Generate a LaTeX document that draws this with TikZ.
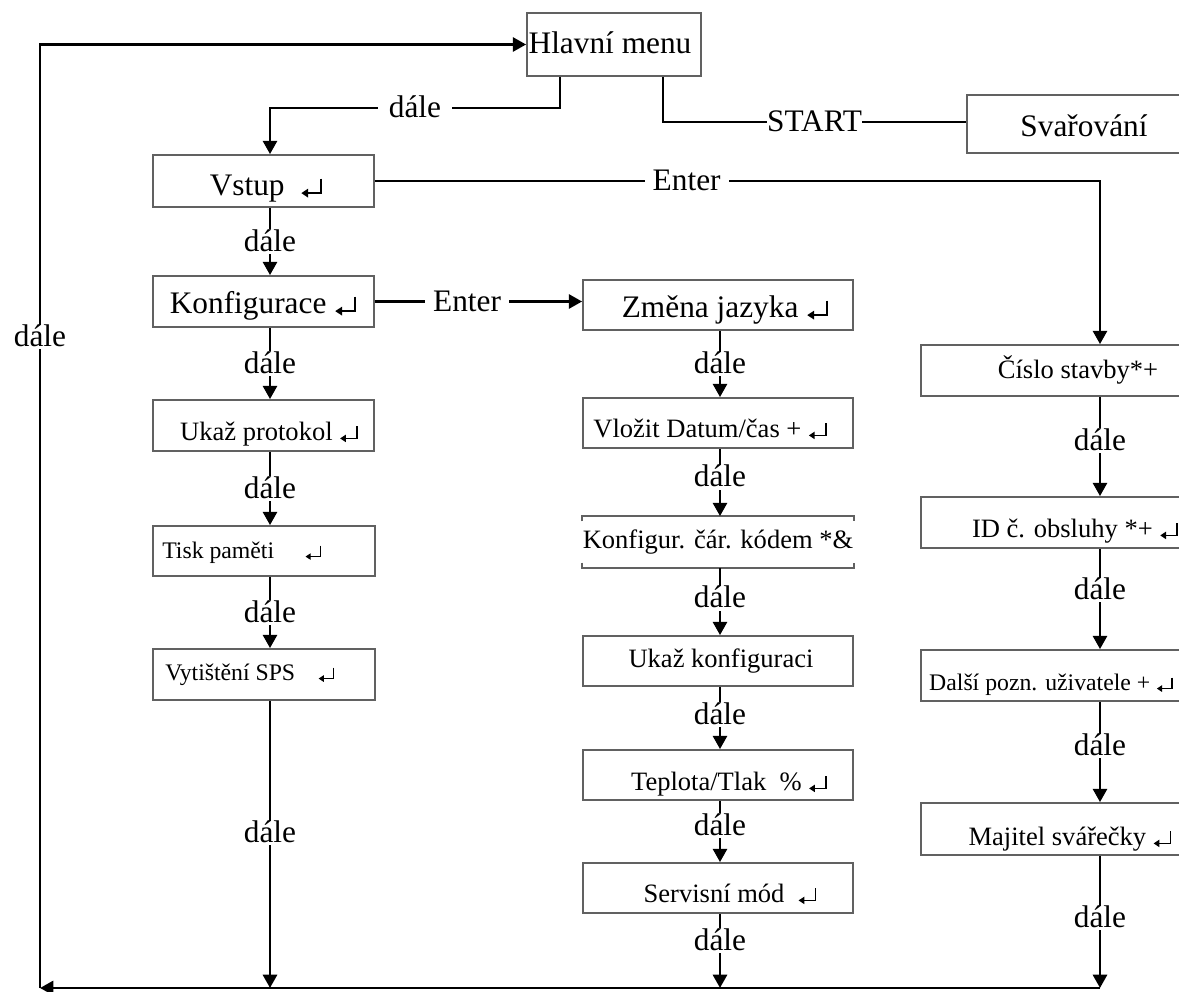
\documentclass[tikz,border=0pt]{standalone}
\usepackage{fontspec}
\setmainfont{Liberation Serif}
\usetikzlibrary{arrows.meta}
\definecolor{boxgray}{gray}{0.38}
\newcommand{\fbig}{\fontsize{23.5}{28}\selectfont}
\newcommand{\fmed}{\fontsize{19.9}{24}\selectfont}
\newcommand{\fsml}{\fontsize{17.8}{21}\selectfont}
\newcommand{\ret}{\tikz[baseline=0pt,x=1em,y=1em]{\draw[line width=0.06em,-{Triangle[length=0.22em,width=0.27em]}] (0.64,0.52) -- (0.64,0.06) -- (0.0,0.06);}}
\newcommand{\mybox}[6][]{\node[boxst,#1,minimum width={(#4-#2)*0.75pt},minimum height={(#5-#3)*0.75pt}] (#6) at ({(#2+#4)/2},{(#3+#5)/2}) {};}
\begin{document}
\begin{tikzpicture}[x=0.75pt,y=-0.75pt,
  boxst/.style={draw=boxgray,line width=1.3pt,inner sep=0pt},
  conn/.style={line width=2.2pt,black},
  arr/.style={conn,-{Triangle[length=10pt,width=10.5pt]}},
  lbl/.style={fill=white,inner xsep=6pt,inner ysep=1pt,font=\fbig,text height=15.6pt,text depth=1pt},
  tbig/.style={font=\fbig,inner sep=0pt,anchor=base},
  tmed/.style={font=\fmed,inner sep=0pt,anchor=base},
  tsml/.style={font=\fsml,inner sep=0pt,anchor=base}]
\useasboundingbox (0,0) rectangle (1179,992);
\clip (0,0) rectangle (1179,992);
% boxes
\mybox{527}{13}{701}{76}{hl}
\mybox{967}{95}{1200}{153}{sv}
\mybox{153}{155}{374}{207}{vs}
\mybox{153}{276}{374}{327}{ko}
\mybox{153}{400}{374}{451}{up}
\mybox{153}{526}{375}{576}{tp}
\mybox{153}{649}{375}{700}{vy}
\mybox{583}{280}{853}{330}{zj}
\mybox{583}{398}{853}{448}{vd}
\mybox[draw=none]{583}{517}{853}{567}{kc}
\mybox{583}{636}{853}{686}{uk}
\mybox{583}{750}{853}{800}{tt}
\mybox{583}{863}{853}{913}{sm}
\mybox{921}{345}{1200}{396}{cs}
\mybox{921}{497}{1200}{548}{id}
\mybox{921}{650}{1200}{701}{dp}
\mybox{921}{803}{1200}{855}{mj}
\draw[boxgray,line width=1.3pt] ([yshift=-4pt]kc.north west) -- (kc.north west) -- (kc.north east) -- ([yshift=-4pt]kc.north east);
\draw[boxgray,line width=1.3pt] ([yshift=4pt]kc.south west) -- (kc.south west) -- (kc.south east) -- ([yshift=4pt]kc.south east);
% texts
\node[tbig] (t-hl) at (610,53) {Hlavní menu};
\node[tbig] (t-sv) at (1084,136) {Svařování};
\node[tbig] (t-vs) at (266,195) {Vstup\ \ \ret};
\node[tbig] (t-ko) at (263,313) {Konfigurace \ret};
\node[tmed] (t-up) at (269,440) {Ukaž protokol \ret};
\node[tsml,anchor=base west] (t-tp) at (162,558) {Tisk paměti\hspace{23pt}\ret};
\node[tsml,anchor=base west] (t-vy) at (165,680) {Vytištění SPS\hspace{17pt}\ret};
\node[tbig] (t-zj) at (725,317) {Změna jazyka \ret};
\node[tmed] (t-vd) at (710,437) {Vložit Datum/čas + \ret};
\node[tmed] (t-kc) at (718,548) {Konfigur. čár. kódem *\&};
\node[tmed] (t-uk) at (721,667) {Ukaž konfiguraci};
\node[tmed] (t-tt) at (729,790) {Teplota/Tlak\ \ \% \ret};
\node[tmed] (t-sm) at (730,902) {Servisní mód\ \ \ret};
\node[tmed] (t-cs) at (1078,378) {Číslo stavby*+};
\node[tmed] (t-id) at (1075,537) {ID č. obsluhy *+ \ret};
\node[tsml] (t-dp) at (1051,690) {Další pozn. uživatele + \ret};
\node[tmed] (t-mj) at (1070,845) {Majitel svářečky \ret};
% helper coordinates
\coordinate (c1) at (270,0);
\coordinate (c2) at (720,0);
\coordinate (c3) at (1100,0);
\coordinate (bl) at (40,988);
\coordinate (h1) at (560,108);
\coordinate (s1) at (663,122);
% top connectors
\draw[arr] (hl.south -| h1) -- (h1) -- node[lbl,inner xsep=8pt]{dále} (h1 -| c1) -- (vs.north -| c1);
\draw[conn] (hl.south -| s1) -- (s1) -- node[lbl,inner xsep=0pt]{START} (s1 -| sv.west);
\draw[arr] (vs.east) -- node[lbl,pos=0.43]{Enter} (vs.east -| c3) -- (cs.north -| c3);
\draw[arr] (ko.east) -- node[lbl,pos=0.445]{Enter} (zj.west |- ko.east);
% column 1
\draw[arr] (vs.south -| c1) -- node[lbl]{dále} (ko.north -| c1);
\draw[arr] (ko.south -| c1) -- node[lbl]{dále} (up.north -| c1);
\draw[arr] (up.south -| c1) -- node[lbl]{dále} (tp.north -| c1);
\draw[arr] (tp.south -| c1) -- node[lbl]{dále} (vy.north -| c1);
\draw[arr] (vy.south -| c1) -- node[lbl,pos=0.46]{dále} (bl -| c1);
% column 2
\draw[arr] (zj.south -| c2) -- node[lbl]{dále} (vd.north -| c2);
\draw[arr] (vd.south -| c2) -- node[lbl,pos=0.42]{dále} (kc.north -| c2);
\draw[arr] (kc.south -| c2) -- node[lbl,pos=0.45]{dále} (uk.north -| c2);
\draw[arr] (uk.south -| c2) -- node[lbl,pos=0.44]{dále} (tt.north -| c2);
\draw[arr] (tt.south -| c2) -- node[lbl,pos=0.4]{dále} (sm.north -| c2);
\draw[arr] (sm.south -| c2) -- node[lbl,pos=0.36]{dále} (bl -| c2);
% column 3
\draw[arr] (cs.south -| c3) -- node[lbl,pos=0.44]{dále} (id.north -| c3);
\draw[arr] (id.south -| c3) -- node[lbl,pos=0.41]{dále} (dp.north -| c3);
\draw[arr] (dp.south -| c3) -- node[lbl,pos=0.44]{dále} (mj.north -| c3);
\draw[arr] (mj.south -| c3) -- node[lbl,pos=0.47]{dále} (bl -| c3);
% return loop
\draw[arr] (bl -| c3) -- (bl);
\draw[arr] (bl) -- node[lbl,pos=0.69,inner xsep=1pt]{dále} (bl |- hl.west) -- (hl.west);
\end{tikzpicture}
\end{document}
